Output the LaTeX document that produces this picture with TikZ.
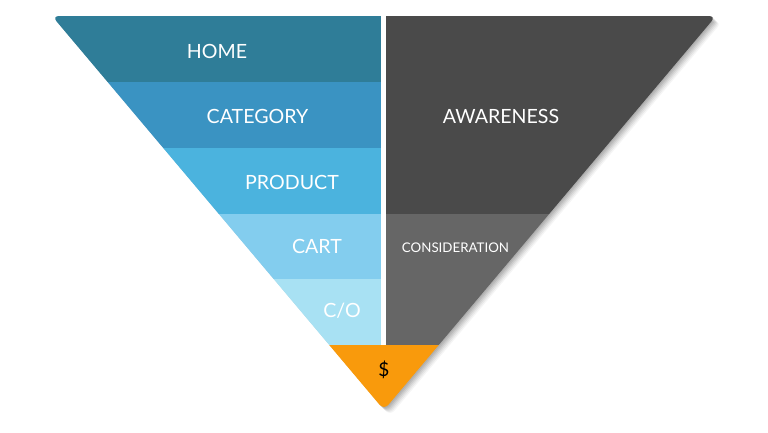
\documentclass[tikz,border=0pt]{standalone}
\usepackage{fontspec}
\setmainfont{Lato}
\definecolor{cHome}{HTML}{2F7D98}
\definecolor{cCat}{HTML}{3A93C2}
\definecolor{cProd}{HTML}{4BB3DE}
\definecolor{cCart}{HTML}{83CDEE}
\definecolor{cCO}{HTML}{A8E1F3}
\definecolor{cMoney}{HTML}{F99A0C}
\definecolor{cAware}{HTML}{4A4A4A}
\definecolor{cCons}{HTML}{666666}
\tikzset{
  lbl/.style={text=white, font=\fontsize{19.6}{22}\selectfont, inner sep=0pt},
  small/.style={text=white, font=\fontsize{13.3}{15}\selectfont, inner sep=0pt},
}
\begin{document}
\begin{tikzpicture}[x=1pt,y=-1pt]
\useasboundingbox (0,0) rectangle (768,432);
% shadow
\foreach \d/\o in {1/0.07,2/0.07,3/0.07,4/0.06,5/0.05,6/0.04}{
  \fill[black, opacity=\o, rounded corners=7pt, shift={(\d,\d)}]
    (52,16) -- (716,16) -- (384,410) -- cycle;
}
\begin{scope}
  \clip[rounded corners=7pt] (52,16) -- (716,16) -- (384,410) -- cycle;
  \fill[cHome] (0,0) rectangle (383,82);
  \fill[cCat] (0,82) rectangle (383,148);
  \fill[cProd] (0,148) rectangle (383,213.5);
  \fill[cCart] (0,213.5) rectangle (383,279);
  \fill[cCO] (0,279) rectangle (383,344.5);
  \fill[cAware] (383,0) rectangle (768,213.5);
  \fill[cCons] (383,213.5) rectangle (768,344.5);
  \fill[cMoney] (0,344.5) rectangle (768,432);
  \fill[white] (381,0) rectangle (385.5,344.5);
\end{scope}
\node[lbl] (home) at (217,51) {HOME};
\node[lbl] (cat) at (257.5,116) {CATEGORY};
\node[lbl] (prod) at (292,182) {PRODUCT};
\node[lbl] (cart) at (317,246) {CART};
\node[lbl] (co) at (342,311) {C/O};
\node[lbl] (aware) at (501,116) {AWARENESS};
\node[small] (cons) at (455.5,248) {CONSIDERATION};
\node[text=black, font=\fontsize{19}{22}\selectfont, inner sep=0pt] (money) at (384,370) {\$};
\end{tikzpicture}
\end{document}
